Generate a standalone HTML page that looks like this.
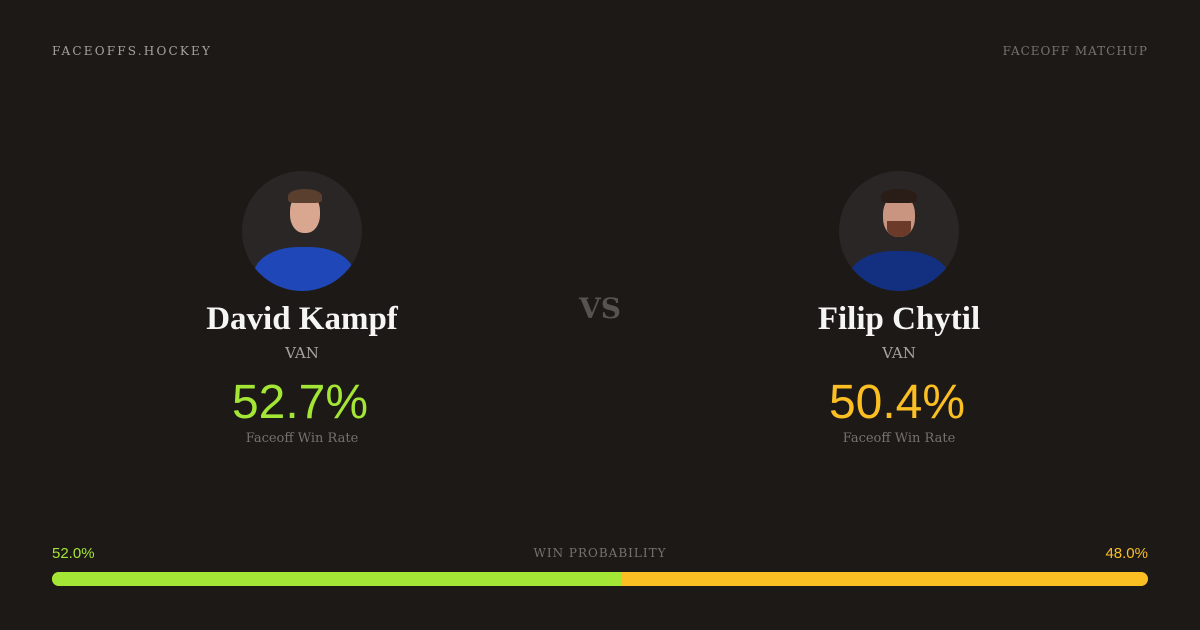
<!DOCTYPE html>
<html><head><style>
html,body{margin:0;padding:0;}
body{width:1200px;height:630px;background:#1d1917;position:relative;overflow:hidden;font-family:"DejaVu Serif","Liberation Serif",serif;}
.t{position:absolute;white-space:nowrap;}
.c{transform:translateX(-50%);text-align:center;}
.av{position:absolute;width:120px;height:120px;border-radius:50%;background:#2a2625;overflow:hidden;top:171px;}
.nm{font-family:"Liberation Serif",serif;font-weight:bold;font-size:33px;color:#f5f5f4;top:301px;}
.pc{font-size:48px;font-family:'Liberation Sans',sans-serif;top:375px;}
</style></head><body>
<div class="t" style="left:52px;top:44px;font-size:12px;letter-spacing:2.2px;color:#a8a29e;">FACEOFFS.HOCKEY</div>
<div class="t" style="right:52px;top:44px;font-size:12px;letter-spacing:1px;color:#78716c;">FACEOFF MATCHUP</div>

<div class="av" style="left:242px;">
 <div style="position:absolute;left:48px;top:22px;width:30px;height:40px;border-radius:45%;background:#d9a790;"></div>
 <div style="position:absolute;left:46px;top:18px;width:34px;height:14px;border-radius:50% 50% 20% 20%;background:#5a3e2e;"></div>
 <div style="position:absolute;left:12px;top:76px;width:100px;height:60px;border-radius:45% 45% 0 0;background:#1f47b8;"></div>
</div>
<div class="av" style="left:839px;">
 <div style="position:absolute;left:44px;top:24px;width:32px;height:42px;border-radius:45%;background:#c99580;"></div>
 <div style="position:absolute;left:42px;top:18px;width:36px;height:14px;border-radius:50% 50% 20% 20%;background:#2a1c16;"></div>
 <div style="position:absolute;left:48px;top:50px;width:24px;height:16px;border-radius:0 0 50% 50%;background:#6b3a28;"></div>
 <div style="position:absolute;left:10px;top:80px;width:100px;height:60px;border-radius:45% 45% 0 0;background:#132f80;"></div>
</div>

<div class="t c nm" style="left:302px;">David Kampf</div>
<div class="t c" style="left:302px;top:344px;font-size:15px;color:#a8a29e;">VAN</div>
<div class="t c pc" style="left:300px;color:#a3e635;">52.7%</div>
<div class="t c" style="left:302px;top:431px;font-size:13px;color:#78716c;">Faceoff Win Rate</div>

<div class="t c" style="left:600px;top:292px;font-size:28px;color:#57534e;font-weight:bold;">VS</div>

<div class="t c nm" style="left:899px;">Filip Chytil</div>
<div class="t c" style="left:899px;top:344px;font-size:15px;color:#a8a29e;">VAN</div>
<div class="t c pc" style="left:897px;color:#fbbf24;">50.4%</div>
<div class="t c" style="left:899px;top:431px;font-size:13px;color:#78716c;">Faceoff Win Rate</div>

<div class="t" style="left:52px;top:545px;font-size:15px;color:#a3e635;font-family:'Liberation Sans',sans-serif;">52.0%</div>
<div class="t c" style="left:600px;top:546px;font-size:12px;letter-spacing:1px;color:#78716c;">WIN PROBABILITY</div>
<div class="t" style="right:52px;top:545px;font-size:15px;color:#fbbf24;font-family:'Liberation Sans',sans-serif;">48.0%</div>
<div style="position:absolute;left:52px;top:572px;width:1096px;height:14px;border-radius:7px;overflow:hidden;background:#fbbf24;">
 <div style="width:570px;height:14px;background:#a3e635;"></div>
</div>
</body></html>
